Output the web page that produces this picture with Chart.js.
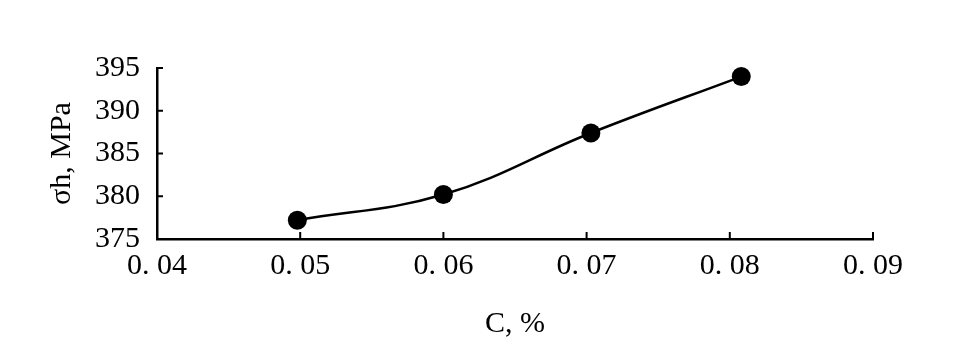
<!DOCTYPE html>
<html><head><meta charset="utf-8">
<script src="https://cdn.jsdelivr.net/npm/chart.js@4"></script>
<style>html,body{margin:0;padding:0;background:#fff}#wrap{width:965px;height:357px}</style>
</head><body><div id="wrap"><canvas id="c" width="965" height="357"></canvas></div>
<script>
const carbon = [0.0498, 0.0600, 0.0703, 0.0808];
const strength = [377.2, 380.2, 387.4, 394.0];
const xTickValues = [0.04, 0.05, 0.06, 0.07, 0.08, 0.09];
const xTickLabels = ['0. 04', '0. 05', '0. 06', '0. 07', '0. 08', '0. 09'];
const yTickLabels = ['375', '380', '385', '390', '395'];
const xTitle = 'C, %';
const yTitle = 'σh, MPa';

const FONT = 'Liberation Serif';

const inwardTicks = {
  id: 'inwardTicks',
  afterDraw(chart) {
    const ctx = chart.ctx;
    const xs = chart.scales.x, ys = chart.scales.y;
    ctx.save();
    ctx.strokeStyle = '#000';
    ctx.lineWidth = 2;
    xs.ticks.forEach(t => {
      if (t.value <= xs.min) return;
      const px = xs.getPixelForValue(t.value);
      ctx.beginPath(); ctx.moveTo(px, xs.top); ctx.lineTo(px, xs.top - 7); ctx.stroke();
    });
    ys.ticks.forEach(t => {
      if (t.value <= ys.min) return;
      const py = ys.getPixelForValue(t.value);
      ctx.beginPath(); ctx.moveTo(ys.right, py); ctx.lineTo(ys.right + 6, py); ctx.stroke();
    });
    ctx.restore();
  }
};

new Chart(document.getElementById('c'), {
  type: 'scatter',
  data: {
    datasets: [{
      data: carbon.map((v, i) => ({x: v, y: strength[i]})),
      showLine: true,
      tension: 0.4,
      borderColor: '#000',
      borderWidth: 2.5,
      backgroundColor: '#000',
      pointRadius: 9.5,
      pointHoverRadius: 9.5,
      pointBorderWidth: 0
    }]
  },
  options: {
    responsive: false,
    animation: false,
    events: [],
    clip: false,
    layout: {padding: {left: 0, top: 68, right: 92, bottom: 0}},
    plugins: {legend: {display: false}, tooltip: {enabled: false}},
    scales: {
      x: {
        type: 'linear', min: 0.04, max: 0.09,
        afterBuildTicks: s => { s.ticks = xTickValues.map(v => ({value: v})); },
        afterFit: s => { s.height = 118; },
        ticks: {
          color: '#000', padding: 9, maxRotation: 0, autoSkip: false,
          font: {family: FONT, size: 30},
          callback: (v) => { const i = xTickValues.findIndex(t => Math.abs(t - v) < 1e-9); return i >= 0 ? xTickLabels[i] : ''; }
        },
        grid: {display: true, drawOnChartArea: false, drawTicks: false},
        border: {display: true, color: '#000', width: 2.5},
        title: {display: true, text: xTitle, color: '#000', font: {family: FONT, size: 30}, padding: {top: 0, bottom: 15}}
      },
      y: {
        type: 'linear', min: 375, max: 395,
        afterFit: s => { s.width = 157; },
        ticks: {
          color: '#000', padding: 17, stepSize: 5,
          font: {family: FONT, size: 30},
          callback: (v) => { const i = yTickLabels.indexOf(String(v)); return i >= 0 ? yTickLabels[i] : ''; }
        },
        grid: {display: true, drawOnChartArea: false, drawTicks: false},
        border: {display: true, color: '#000', width: 2.5},
        title: {display: true, text: yTitle, color: '#000', font: {family: FONT, size: 30}, padding: {top: 44, bottom: 0}}
      }
    }
  },
  plugins: [inwardTicks]
});
</script></body></html>
